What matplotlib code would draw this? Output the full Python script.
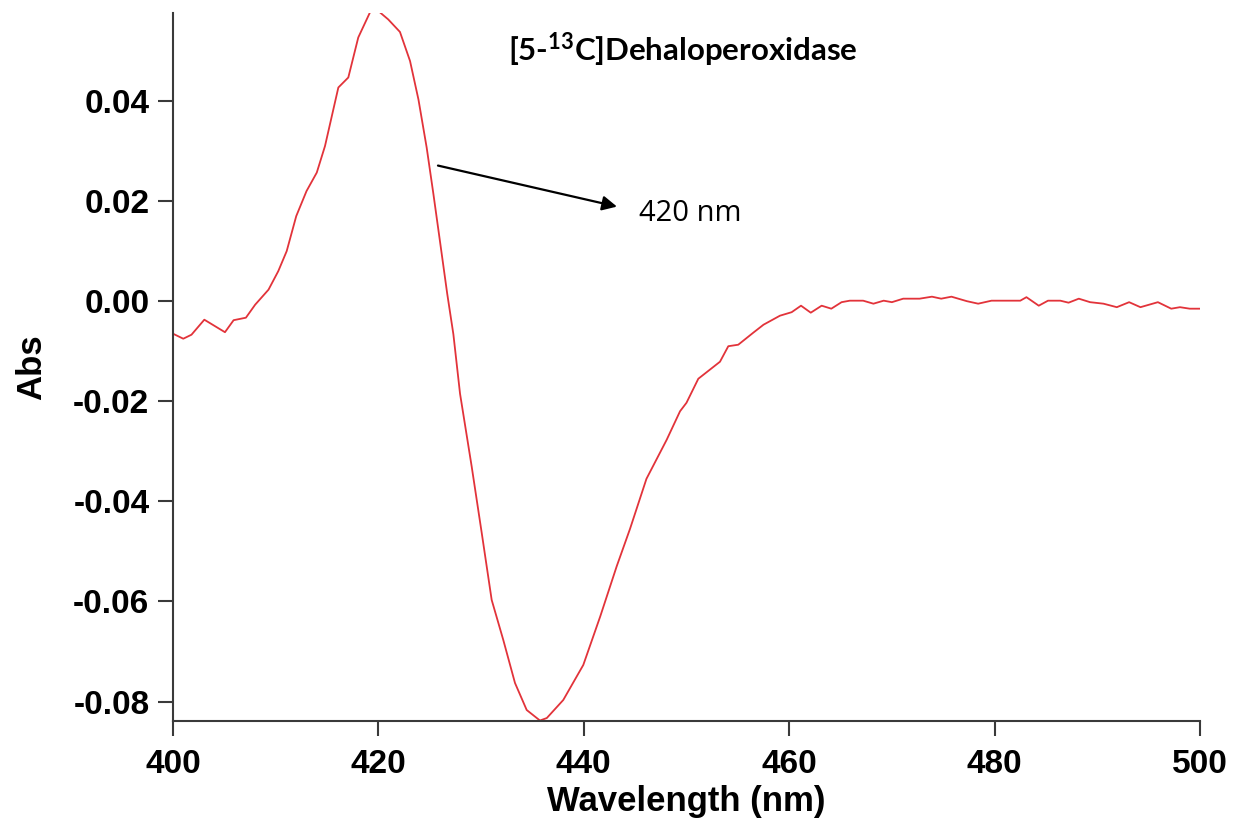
import matplotlib.pyplot as plt
import numpy as np

plt.rcParams['axes.unicode_minus'] = False
plt.rcParams['mathtext.fontset'] = 'custom'
plt.rcParams['mathtext.rm'] = 'Lato:bold'
plt.rcParams['mathtext.default'] = 'rm'

# difference spectrum, read point by point
wavelength = [400.0, 401.0, 401.8, 403.05, 405.06, 405.9, 407.1, 408.0, 409.3, 410.25,
              411.07, 412.0, 413.0, 414.0, 414.8, 416.1, 417.07, 418.04, 419.2, 420.1,
              420.96, 422.1, 423.08, 423.9, 424.7, 425.35, 426.0, 426.7, 427.3, 427.95,
              429.08, 430.06, 431.03, 432.16, 433.3, 434.44, 435.73, 436.4, 438.0, 439.95,
              441.6, 443.2, 444.5, 446.1, 448.07, 449.37, 450.0, 451.15, 453.26, 454.07,
              455.04, 456.5, 457.5, 459.1, 460.24, 461.15, 462.1, 463.16, 464.1, 465.1,
              465.9, 467.2, 468.2, 469.2, 470.0, 471.1, 472.7, 473.9, 474.8, 475.8,
              477.3, 478.4, 479.7, 482.5, 483.1, 484.3, 485.2, 486.4, 487.2, 488.2,
              489.3, 490.6, 491.9, 493.1, 494.2, 495.9, 497.2, 498.05, 499.0, 500.0]
absorbance = [-0.0065, -0.0075, -0.0067, -0.0037, -0.0062, -0.0038, -0.0033, -0.0007, 0.0023, 0.0060,
              0.0100, 0.0170, 0.0220, 0.0257, 0.0310, 0.0427, 0.0447, 0.0527, 0.0578, 0.0578,
              0.0563, 0.0538, 0.0480, 0.0403, 0.0307, 0.0215, 0.0119, 0.0015, -0.0066, -0.0185,
              -0.0330, -0.0463, -0.0597, -0.0677, -0.0763, -0.0817, -0.0838, -0.0833, -0.0797, -0.0727,
              -0.0630, -0.0530, -0.0455, -0.0355, -0.0277, -0.0220, -0.0203, -0.0155, -0.0121, -0.0090,
              -0.0087, -0.0063, -0.0047, -0.0029, -0.0022, -0.0009, -0.0023, -0.0009, -0.0015, -0.0002,
              0.0001, 0.0001, -0.0005, 0.0001, -0.0002, 0.0005, 0.0005, 0.0009, 0.0005, 0.0009,
              0.0000, -0.0005, 0.0001, 0.0001, 0.0008, -0.0009, 0.0001, 0.0001, -0.0003, 0.0005,
              -0.0002, -0.0005, -0.0012, -0.0002, -0.0012, -0.0002, -0.0015, -0.0012, -0.0015, -0.0015]

xticks = [400, 420, 440, 460, 480, 500]
yticks = [-0.08, -0.06, -0.04, -0.02, 0.00, 0.02, 0.04]

fig = plt.figure(figsize=(12.5, 8.35), dpi=100)
ax = fig.add_axes([0.1384, 0.1365, 0.8216, 0.848])

ax.plot(wavelength, absorbance, color='#e2333a', lw=1.3)

ax.set_xlim(400, 500)
ax.set_ylim(-0.0839, 0.0576)
ax.set_xticks(xticks)
ax.set_yticks(yticks)
ax.set_xticklabels([str(t) for t in xticks])
ax.set_yticklabels(['%.2f' % t for t in yticks])

for side in ['top', 'right']:
    ax.spines[side].set_visible(False)
for side in ['left', 'bottom']:
    ax.spines[side].set_color('#3a3a3a')
    ax.spines[side].set_linewidth(1.5)

ax.tick_params(axis='both', direction='out', length=11, width=1.5, color='#3a3a3a',
               labelsize=24, labelcolor='black')
ax.tick_params(axis='x', pad=9)
ax.tick_params(axis='y', pad=6)
for lab in ax.get_xticklabels() + ax.get_yticklabels():
    lab.set_fontfamily('Liberation Sans')
    lab.set_fontweight('bold')

ax.set_xlabel('Wavelength (nm)', fontsize=25, fontweight='bold', family='Liberation Sans', labelpad=4)
ax.set_ylabel('Abs', fontsize=25, fontweight='bold', family='Liberation Sans', labelpad=18)

fig.text(0.4064, 0.928, r'[5-$^{13}$C]Dehaloperoxidase', fontsize=22.5, fontweight='bold',
         family='Lato', va='baseline', ha='left')

ax.annotate('', xy=(443.23, 0.0189), xytext=(425.8, 0.0271),
            arrowprops=dict(arrowstyle='-|>', color='black', lw=1.6, mutation_scale=22,
                            shrinkA=0, shrinkB=0))
fig.text(0.5112, 0.7357, '420 nm', fontsize=21, family='Open Sans', va='baseline', ha='left')

fig.savefig('out.png', dpi=100)
